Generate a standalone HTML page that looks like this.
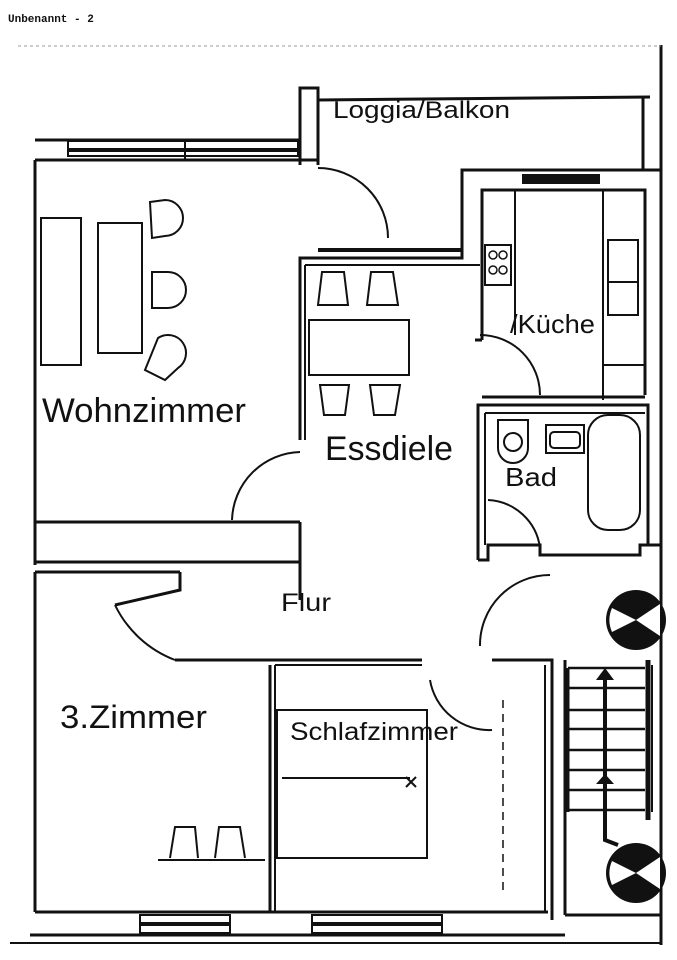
<!DOCTYPE html>
<html><head><meta charset="utf-8"><style>
html,body{margin:0;padding:0;background:#fff;}
svg{display:block;}
text{font-family:"Liberation Sans",sans-serif;fill:#111;}
</style></head><body>
<svg width="677" height="960" viewBox="0 0 677 960" xmlns="http://www.w3.org/2000/svg">
<rect width="677" height="960" fill="#fff"/>
<text x="8" y="22" style="font-family:'Liberation Mono',monospace;font-weight:bold;font-size:11px">Unbenannt - 2</text>
<g stroke="#111" fill="none" stroke-width="3">
<line x1="661" y1="45" x2="661" y2="945" stroke-width="3"/>
<line x1="18" y1="46" x2="661" y2="46" stroke-width="1" stroke="#999" stroke-dasharray="3 3"/>
<polyline points="300,165 300,88 318,88 318,165"/>
<line x1="318" y1="100" x2="650" y2="97"/>
<line x1="643" y1="97" x2="643" y2="170"/>
<line x1="35" y1="140" x2="300" y2="140"/>
<rect x="68" y="141" width="230" height="15" stroke-width="2"/>
<line x1="68" y1="150" x2="298" y2="150" stroke-width="4"/>
<line x1="185" y1="141" x2="185" y2="160" stroke-width="2"/>
<line x1="35" y1="160" x2="318" y2="160"/>
<line x1="35" y1="160" x2="35" y2="565"/>
<path d="M318,168 A70,70 0 0 1 388,238" stroke-width="2"/>
<polyline points="300,275 300,258 462,258 462,170 660,170"/>
<line x1="318" y1="250" x2="462" y2="250" stroke-width="4"/>
<line x1="305" y1="265" x2="480" y2="265" stroke-width="2"/>
<line x1="300" y1="258" x2="300" y2="440"/>
<line x1="305" y1="265" x2="305" y2="440" stroke-width="2"/>
<rect x="522" y="174" width="78" height="10" fill="#111" stroke="none"/>
<polyline points="482,340 482,190 645,190 645,395"/>
<line x1="515" y1="190" x2="515" y2="335" stroke-width="2"/>
<line x1="603" y1="190" x2="603" y2="400" stroke-width="2"/>
<line x1="603" y1="365" x2="645" y2="365" stroke-width="2"/>
<rect x="485" y="245" width="26" height="40" stroke-width="2"/>
<circle cx="493" cy="255" r="4" stroke-width="1.5"/><circle cx="503" cy="255" r="4" stroke-width="1.5"/>
<circle cx="493" cy="270" r="4" stroke-width="1.5"/><circle cx="503" cy="270" r="4" stroke-width="1.5"/>
<rect x="608" y="240" width="30" height="75" stroke-width="2"/>
<line x1="608" y1="282" x2="638" y2="282" stroke-width="2"/>
<path d="M480,335 A60,60 0 0 1 540,395" stroke-width="2"/>
<polyline points="482,340 475,340" />
<line x1="482" y1="397" x2="645" y2="397" stroke-width="3"/>
<polyline points="478,560 478,405 648,405 648,545"/>
<line x1="485" y1="413" x2="645" y2="413" stroke-width="2"/>
<line x1="485" y1="413" x2="485" y2="545" stroke-width="2"/>
<rect x="588" y="415" width="52" height="115" rx="20" stroke-width="2"/>
<rect x="546" y="425" width="38" height="28" stroke-width="2"/>
<rect x="550" y="432" width="30" height="16" rx="4" stroke-width="2"/>
<path d="M498,420 L528,420 L528,448 A15,15 0 0 1 498,448 Z" stroke-width="2"/>
<circle cx="513" cy="442" r="9" stroke-width="2"/>
<path d="M488,500 A55,55 0 0 1 540,548" stroke-width="2"/>
<polyline points="478,560 488,560 488,545 540,545 540,555 640,555 640,545 660,545" stroke-width="3"/>
<rect x="41" y="218" width="40" height="147" stroke-width="2"/>
<rect x="98" y="223" width="44" height="130" stroke-width="2"/>
<path d="M150,202 L165,200 A18,18 0 0 1 165,236 L152,238 Z" stroke-width="2"/>
<path d="M152,272 L168,272 A18,18 0 0 1 168,308 L152,308 Z" stroke-width="2"/>
<path d="M158,338 A18,18 0 0 1 178,368 L165,380 L145,370 Z" stroke-width="2"/>
<rect x="309" y="320" width="100" height="55" stroke-width="2"/>
<path d="M318,305 L322,272 L344,272 L348,305 Z" stroke-width="2"/>
<path d="M367,305 L371,272 L393,272 L398,305 Z" stroke-width="2"/>
<path d="M320,385 L349,385 L345,415 L324,415 Z" stroke-width="2"/>
<path d="M370,385 L400,385 L395,415 L374,415 Z" stroke-width="2"/>
<path d="M232,520 A70,70 0 0 1 300,452" stroke-width="2"/>
<line x1="35" y1="522" x2="300" y2="522"/>
<line x1="35" y1="562" x2="300" y2="562"/>
<polyline points="300,522 300,600"/>
<line x1="35" y1="572" x2="180" y2="572"/>
<line x1="35" y1="572" x2="35" y2="912"/>
<polyline points="180,572 180,590 115,605"/>
<path d="M115,605 A110,110 0 0 0 175,660" stroke-width="2"/>
<line x1="175" y1="660" x2="422" y2="660"/>
<line x1="270" y1="665" x2="270" y2="912"/>
<line x1="275" y1="665" x2="275" y2="912" stroke-width="2"/>
<line x1="275" y1="665" x2="422" y2="665" stroke-width="2"/>
<path d="M430,680 A60,60 0 0 0 492,730" stroke-width="2"/>
<path d="M480,646 A70,70 0 0 1 550,575" stroke-width="2"/>
<polyline points="492,660 552,660 552,920"/>
<line x1="545" y1="665" x2="545" y2="912" stroke-width="2"/>
<line x1="503" y1="700" x2="503" y2="890" stroke-width="1.5" stroke-dasharray="8 6"/>
<line x1="565" y1="660" x2="565" y2="915"/>
<rect x="277" y="710" width="150" height="148" stroke-width="2"/>
<line x1="282" y1="778" x2="410" y2="778" stroke-width="2"/>
<path d="M406,777 l10,10 m0,-10 l-10,10" stroke-width="2"/>
<line x1="158" y1="860" x2="265" y2="860" stroke-width="2"/>
<path d="M170,858 L175,827 L195,827 L198,858" stroke-width="2"/>
<path d="M215,858 L219,827 L240,827 L245,858" stroke-width="2"/>
<line x1="35" y1="912" x2="548" y2="912"/>
<line x1="30" y1="935" x2="565" y2="935"/>
<line x1="10" y1="943" x2="661" y2="943" stroke-width="2"/>
<rect x="140" y="915" width="90" height="18" stroke-width="2"/>
<line x1="140" y1="924" x2="230" y2="924" stroke-width="4"/>
<rect x="312" y="915" width="130" height="18" stroke-width="2"/>
<line x1="312" y1="924" x2="442" y2="924" stroke-width="4"/>
<line x1="565" y1="915" x2="661" y2="915"/>
<line x1="568" y1="668" x2="568" y2="812"/>
<line x1="648" y1="660" x2="648" y2="820" stroke-width="5"/>
<line x1="652" y1="665" x2="652" y2="812" stroke-width="2"/>
<line x1="568" y1="668" x2="645" y2="668" stroke-width="2.5"/>
<line x1="568" y1="688" x2="645" y2="688" stroke-width="2.5"/>
<line x1="568" y1="710" x2="645" y2="710" stroke-width="2.5"/>
<line x1="568" y1="729" x2="645" y2="729" stroke-width="2.5"/>
<line x1="568" y1="750" x2="645" y2="750" stroke-width="2.5"/>
<line x1="568" y1="770" x2="645" y2="770" stroke-width="2.5"/>
<line x1="568" y1="790" x2="645" y2="790" stroke-width="2.5"/>
<line x1="568" y1="810" x2="645" y2="810" stroke-width="2.5"/>
<polyline points="605,677 605,840 618,845" stroke-width="4"/>
</g>
<polygon points="596,680 605,668 614,680" fill="#111"/>
<polygon points="596,784 605,774 614,784" fill="#111"/>
<g>
<circle cx="636" cy="620" r="30" fill="#111"/>
<path d="M636,620 L660,604 L660,636 Z M636,620 L612,608 A30,30 0 0 0 612,632 Z" fill="#fff"/>
<circle cx="636" cy="873" r="30" fill="#111"/>
<path d="M636,873 L660,857 L660,889 Z M636,873 L612,861 A30,30 0 0 0 612,885 Z" fill="#fff"/>
</g>
<text x="333" y="118" font-size="24" textLength="177" lengthAdjust="spacingAndGlyphs">Loggia/Balkon</text>
<text x="510" y="333" font-size="26" textLength="85" lengthAdjust="spacingAndGlyphs">/Küche</text>
<text x="42" y="422" font-size="34" textLength="204" lengthAdjust="spacingAndGlyphs">Wohnzimmer</text>
<text x="325" y="460" font-size="34" textLength="128" lengthAdjust="spacingAndGlyphs">Essdiele</text>
<text x="505" y="486" font-size="26" textLength="52" lengthAdjust="spacingAndGlyphs">Bad</text>
<text x="281" y="611" font-size="25" textLength="50" lengthAdjust="spacingAndGlyphs">Flur</text>
<text x="60" y="728" font-size="32" textLength="147" lengthAdjust="spacingAndGlyphs">3.Zimmer</text>
<text x="290" y="740" font-size="25" textLength="168" lengthAdjust="spacingAndGlyphs">Schlafzimmer</text>
</svg>
</body></html>
